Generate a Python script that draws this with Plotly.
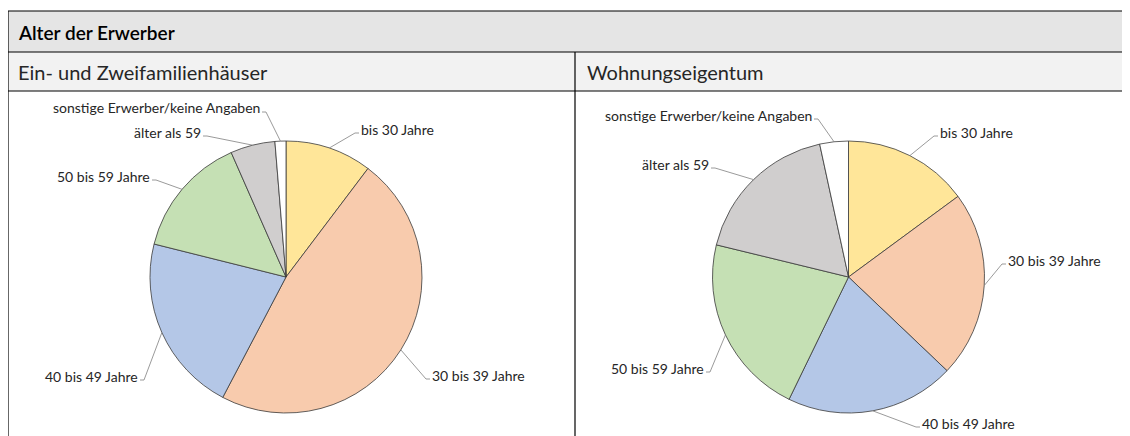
import math
import plotly.graph_objects as go

W, H = 1130, 436
OFF = 8  # page body margin of the browser

# --- data ---
categories = ["bis 30 Jahre", "30 bis 39 Jahre", "40 bis 49 Jahre",
              "50 bis 59 Jahre", "älter als 59", "sonstige Erwerber/keine Angaben"]
efh_values = [10.3, 47.4, 21.2, 14.5, 5.3, 1.3]     # Ein- und Zweifamilienhäuser
wohn_values = [14.9, 22.2, 20.1, 21.6, 17.8, 3.4]   # Wohnungseigentum

title_text = "Alter der Erwerber"
panel_titles = ["Ein- und Zweifamilienhäuser", "Wohnungseigentum"]

colors = ["#FFE699", "#F8CBAD", "#B4C7E7", "#C5E0B4", "#D0CECE", "#FFFFFF"]
FONT = "Lato"
TXT = "#262626"

# pie geometry in pixels (center x, center y, radius)
pies = [
    dict(values=efh_values, cx=286, cy=277, r=136),
    dict(values=wohn_values, cx=848.5, cy=277, r=136),
]

# label anchor points (pixels) and side of the text relative to the anchor
label_pos = [
    [(359, 129, "left"), (430, 375, "left"), (140, 376, "right"),
     (152, 176, "right"), (203, 132, "right"), (262, 108, "right")],
    [(938, 132, "left"), (1006, 260, "left"), (920, 423, "left"),
     (706, 368, "right"), (711, 164, "right"), (814, 115, "right")],
]


def px(x):
    return (x - OFF) / W


def py(y):
    return 1 - (y - OFF) / H


fig = go.Figure()
shapes = []
annotations = []

for p, labs in zip(pies, label_pos):
    cx, cy, r = p["cx"], p["cy"], p["r"]
    fig.add_trace(go.Pie(
        labels=categories,
        values=p["values"],
        sort=False,
        direction="clockwise",
        rotation=0,
        textinfo="none",
        hoverinfo="label+value",
        marker=dict(colors=colors, line=dict(color="#3a3a3a", width=0.8)),
        domain=dict(x=[px(cx - r), px(cx + r)], y=[py(cy + r), py(cy - r)]),
        showlegend=False,
    ))
    total = sum(p["values"])
    cum = 0
    for cat, v, (lx, ly, side) in zip(categories, p["values"], labs):
        mid = (cum + v / 2) / total * 2 * math.pi
        cum += v
        ex = cx + r * math.sin(mid)
        ey = cy - r * math.cos(mid)
        kx = lx + (-4 if side == "left" else 4)
        shapes.append(dict(
            type="path", xref="paper", yref="paper",
            path=f"M {px(lx)} {py(ly + 4)} L {px(kx)} {py(ly + 4)} L {px(ex)} {py(ey)}",
            line=dict(color="#808080", width=0.8),
        ))
        annotations.append(dict(
            x=px(lx), y=py(ly), xref="paper", yref="paper",
            text=cat, showarrow=False,
            xanchor="left" if side == "left" else "right", yanchor="middle",
            font=dict(family=FONT, size=14, color=TXT),
        ))

# frame: title bar, header row, borders
L, R = 8, 1140
shapes += [
    dict(type="rect", xref="paper", yref="paper", x0=px(L), x1=px(R), y0=py(52), y1=py(11),
         fillcolor="#E5E5E5", line=dict(width=0), layer="below"),
    dict(type="rect", xref="paper", yref="paper", x0=px(L), x1=px(R), y0=py(91), y1=py(52),
         fillcolor="#F2F2F2", line=dict(width=0), layer="below"),
]
for y in (11, 52, 91):
    shapes.append(dict(type="line", xref="paper", yref="paper", x0=px(L), x1=px(R),
                       y0=py(y), y1=py(y), line=dict(color="black", width=1.2)))
shapes.append(dict(type="line", xref="paper", yref="paper", x0=px(L), x1=px(L),
                   y0=py(11), y1=0, line=dict(color="black", width=1.2)))
shapes.append(dict(type="line", xref="paper", yref="paper", x0=px(575), x1=px(575),
                   y0=py(52), y1=0, line=dict(color="black", width=1.2)))

annotations.append(dict(x=px(16), y=py(32), xref="paper", yref="paper", text=title_text,
                        showarrow=False, xanchor="left", yanchor="middle",
                        font=dict(family=FONT, size=19, color="black", weight=600)))
for x, t in zip((16, 585), panel_titles):
    annotations.append(dict(x=px(x), y=py(72), xref="paper", yref="paper", text=t,
                            showarrow=False, xanchor="left", yanchor="middle",
                            font=dict(family=FONT, size=20, color=TXT)))

fig.update_layout(
    width=W, height=H,
    margin=dict(l=0, r=0, t=0, b=0),
    paper_bgcolor="white",
    plot_bgcolor="white",
    shapes=shapes,
    annotations=annotations,
)

fig.write_html("out.html")
